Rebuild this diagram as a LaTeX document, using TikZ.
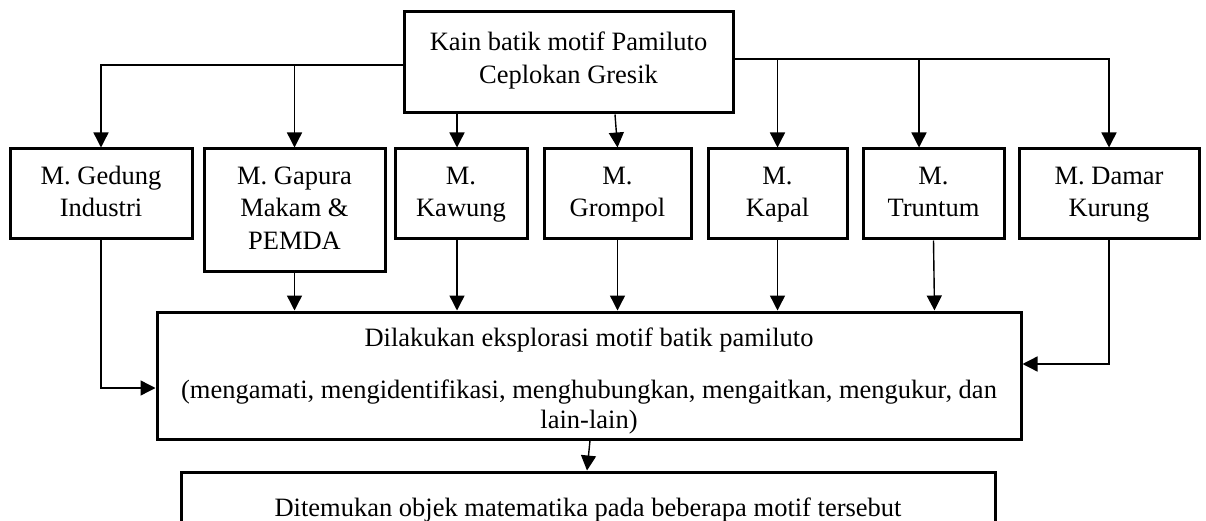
\documentclass[tikz,border=0pt]{standalone}
\usepackage{fontspec}
\setmainfont{Liberation Serif}
\usetikzlibrary{arrows.meta}
\begin{document}
\begin{tikzpicture}[x=1pt,y=-1pt,
  box/.style={draw, line width=3pt, inner sep=0pt, align=center,
    font=\fontsize{26.5}{32.5}\selectfont},
  conn/.style={line width=1.4pt},
  arr/.style={conn, -{Triangle[length=15pt,width=15pt]}}]
\useasboundingbox (0,0) rectangle (1206,521);
\clip (0,0) rectangle (1206,521);
\fill[white] (0,0) rectangle (1206,521);

\node[box, minimum width=329pt, minimum height=101pt] (top) at (568.5,62.5)
  {\rule{0pt}{15pt}Kain batik motif Pamiluto\\\strut Ceplokan Gresik};

\node[box, minimum width=182pt, minimum height=90pt] (gedung) at (101,194) {\strut M. Gedung\\\strut Industri};
\node[box, minimum width=181pt, minimum height=122pt] (gapura) at (294.5,210) {\strut M. Gapura\\\strut Makam \&\\\strut PEMDA};
\node[box, minimum width=132pt, minimum height=90pt] (kawung) at (461,194) {\strut M.\\\strut Kawung};
\node[box, minimum width=147pt, minimum height=90pt] (grompol) at (617.5,194) {\strut M.\\\strut Grompol};
\node[box, minimum width=139pt, minimum height=90pt] (kapal) at (777.5,194) {\strut M.\\\strut Kapal};
\node[box, minimum width=141pt, minimum height=90pt] (truntum) at (933.5,194) {\strut M.\\\strut Truntum};
\node[box, minimum width=180pt, minimum height=90pt] (damar) at (1109,194) {\strut M. Damar\\\strut Kurung};

\node[box, minimum width=864pt, minimum height=127pt] (mid) at (589,375.5)
  {\rule{0pt}{33pt}Dilakukan eksplorasi motif batik pamiluto\\[19.5pt]
   (mengamati, mengidentifikasi, menghubungkan, mengaitkan, mengukur, dan\\[-2.5pt]
   lain-lain)\strut};

\node[box, minimum width=814pt, minimum height=76pt] (bot) at (588,510)
  {\strut Ditemukan objek matematika pada beberapa motif tersebut};

% from top box
\draw[arr] ([yshift=-2.5pt]top.west) -| (gedung.north);
\draw[arr] ([yshift=-2.5pt]top.west -| gapura.north) -- (gapura.north);
\draw[arr] ([yshift=3.5pt]top.east) -| (damar.north);
\draw[arr] ([yshift=3.5pt]top.east -| kapal.north) -- (kapal.north);
\draw[arr] ([xshift=-14.5pt,yshift=3.5pt]top.east -| truntum.north) -- ([xshift=-14.5pt]truntum.north);
\draw[arr] ([xshift=-4pt]top.south -| kawung.north) -- ([xshift=-4pt]kawung.north);
\draw[arr] ([xshift=-2.5pt]top.south -| grompol.north) -- (grompol.north);

% into mid box
\draw[arr] (gapura.south) -- (gapura.south |- mid.north);
\draw[arr] ([xshift=-4pt]kawung.south) -- ([xshift=-4pt]kawung.south |- mid.north);
\draw[arr] (grompol.south) -- (grompol.south |- mid.north);
\draw[arr] (kapal.south) -- (kapal.south |- mid.north);
\draw[arr] (truntum.south) -- ([xshift=1pt]truntum.south |- mid.north);
\draw[arr] (gedung.south) |- ([yshift=-12.5pt]mid.west);
\draw[arr] (damar.south) |- ([yshift=11.5pt]mid.east);

% to bottom box
\draw[arr] ([xshift=1pt]mid.south) -- ([xshift=-1pt]bot.north);
\end{tikzpicture}
\end{document}
